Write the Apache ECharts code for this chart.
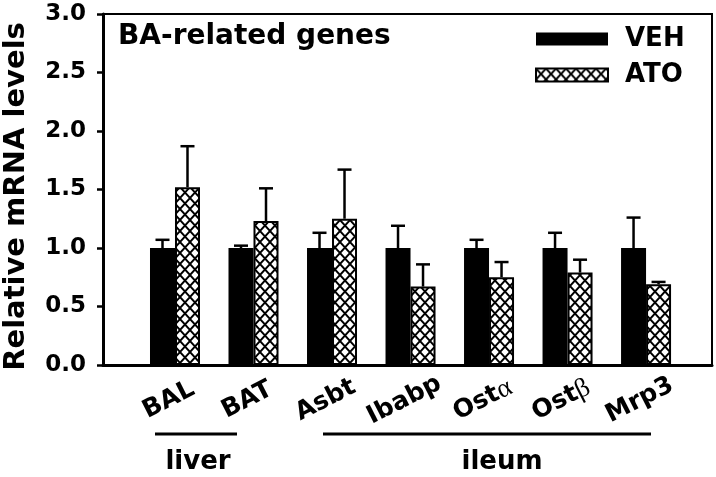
<!DOCTYPE html>
<html>
<head>
<meta charset="utf-8">
<script src="https://cdn.jsdelivr.net/npm/echarts@6/dist/echarts.min.js"></script>
<style>
  html, body { margin: 0; padding: 0; background: #fff; }
  #chart { width: 716px; height: 477px; }
</style>
</head>
<body>
<div id="chart"></div>
<script>
const genes = ['BAL', 'BAT', 'Asbt', 'Ibabp', 'Ostα', 'Ostβ', 'Mrp3']
const vehMean = [1.0, 1.0, 1.0, 1.0, 1.0, 1.0, 1.0]
const vehErr = [0.07, 0.02, 0.13, 0.19, 0.07, 0.13, 0.26]
const atoMean = [1.52, 1.23, 1.25, 0.67, 0.75, 0.79, 0.69]
const atoErr = [0.35, 0.28, 0.42, 0.19, 0.13, 0.11, 0.02]
const yTicks = [0, 0.5, 1, 1.5, 2, 2.5, 3]

const font = 'DejaVu Sans'

// cross-hatch fill for the ATO bars
function hatch () {
  const c = document.createElement('canvas')
  const w = 10
  const h = 11
  c.width = w
  c.height = h
  const ctx = c.getContext('2d')
  ctx.fillStyle = '#fff'
  ctx.fillRect(0, 0, w, h)
  ctx.strokeStyle = '#000'
  ctx.lineWidth = 1.9
  for (let k = -1; k <= 1; k++) {
    ctx.beginPath()
    ctx.moveTo(k * w, 0)
    ctx.lineTo(k * w + w, h)
    ctx.moveTo(k * w + w, 0)
    ctx.lineTo(k * w, h)
    ctx.stroke()
  }
  return c
}

function errorSeries (name, means, errs, shift) {
  return {
    type: 'custom',
    name: name + '-err',
    z: 5,
    silent: true,
    data: means.map((m, i) => [i, m, m + errs[i]]),
    renderItem (params, api) {
      const base = api.coord([api.value(0), api.value(1)])
      const top = api.coord([api.value(0), api.value(2)])
      const x = base[0] + shift
      const style = { stroke: '#000', lineWidth: 2.5 }
      return {
        type: 'group',
        children: [
          { type: 'line', shape: { x1: x, y1: base[1], x2: x, y2: top[1] }, style },
          { type: 'line', shape: { x1: x - 7, y1: top[1], x2: x + 7, y2: top[1] }, style }
        ]
      }
    }
  }
}

function labelText (v) {
  const name = genes[Math.round(v)] || ''
  // greek suffix drawn in a serif face like the original
  const m = name.match(/^(.*?)([αβ])$/)
  return m ? m[1] + '{g|' + m[2] + '}' : name
}

const chart = echarts.init(document.getElementById('chart'))

chart.setOption({
  animation: false,
  backgroundColor: '#fff',
  grid: {
    left: 103,
    right: 4,
    top: 14,
    bottom: 112,
    outerBoundsMode: 'none',
    containLabel: false,
    show: true,
    borderColor: '#000',
    borderWidth: 2
  },
  legend: {
    data: ['VEH', 'ATO'],
    orient: 'vertical',
    left: 530,
    top: 21,
    itemWidth: 72,
    itemHeight: 13,
    itemGap: 10,
    icon: 'rect',
    textStyle: { fontFamily: font, fontWeight: 'bold', fontSize: 26, color: '#000', padding: [0, 0, 0, 12] }
  },
  xAxis: {
    type: 'value',
    min: -0.917,
    max: 6.84,
    splitLine: { show: false },
    axisTick: { show: false },
    axisLine: { show: true, onZero: false, lineStyle: { color: '#000', width: 3 } },
    axisLabel: {
      customValues: genes.map((g, i) => i),
      formatter: labelText,
      rotate: 27,
      align: 'center',
      verticalAlign: 'middle',
      margin: 32,
      padding: [0, 14, 0, 0],
      fontFamily: font,
      fontWeight: 'bold',
      fontSize: 25,
      color: '#000',
      rich: {
        g: { fontFamily: 'Liberation Serif', fontWeight: 'normal', fontSize: 27, color: '#000' }
      }
    }
  },
  yAxis: {
    type: 'value',
    min: 0,
    max: 3,
    interval: 0.5,
    splitLine: { show: false },
    axisLine: { show: true, onZero: false, lineStyle: { color: '#000', width: 3 } },
    axisTick: { show: true, length: 6, lineStyle: { color: '#000', width: 2.5 } },
    axisLabel: {
      customValues: yTicks,
      formatter: v => v.toFixed(1),
      margin: 17,
      fontFamily: font,
      fontWeight: 'bold',
      fontSize: 23,
      color: '#000'
    },
    name: 'Relative mRNA levels',
    nameLocation: 'middle',
    nameGap: 72,
    nameTextStyle: { fontFamily: font, fontWeight: 'bold', fontSize: 29, color: '#000', padding: [0, 14, 0, 0] }
  },
  series: [
    {
      name: 'VEH',
      type: 'bar',
      barWidth: 25,
      barGap: '0%',
      data: vehMean.map((v, i) => [i, v]),
      itemStyle: { color: '#000' }
    },
    {
      name: 'ATO',
      type: 'bar',
      barWidth: 25,
      barGap: '0%',
      data: atoMean.map((v, i) => [i, v]),
      itemStyle: { color: { image: hatch(), repeat: 'repeat' }, borderColor: '#000', borderWidth: 2 }
    },
    errorSeries('VEH', vehMean, vehErr, -12.5),
    errorSeries('ATO', atoMean, atoErr, 12.5)
  ],
  graphic: [
    {
      type: 'text',
      left: 118,
      top: 23,
      style: { text: 'BA-related genes', fontFamily: font, fontWeight: 'bold', fontSize: 28, fill: '#000' }
    },
    { type: 'line', shape: { x1: 155, y1: 434, x2: 237, y2: 434 }, style: { stroke: '#000', lineWidth: 3 } },
    { type: 'line', shape: { x1: 323, y1: 434, x2: 651, y2: 434 }, style: { stroke: '#000', lineWidth: 3 } },
    {
      type: 'text',
      x: 198,
      y: 462,
      style: { text: 'liver', align: 'center', verticalAlign: 'middle', fontFamily: font, fontWeight: 'bold', fontSize: 26, fill: '#000' }
    },
    {
      type: 'text',
      x: 502,
      y: 462,
      style: { text: 'ileum', align: 'center', verticalAlign: 'middle', fontFamily: font, fontWeight: 'bold', fontSize: 26, fill: '#000' }
    }
  ]
})
</script>
</body>
</html>
